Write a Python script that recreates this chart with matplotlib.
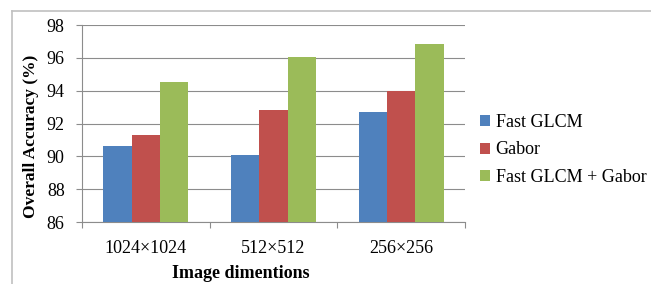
import matplotlib.pyplot as plt
import numpy as np
from matplotlib.lines import Line2D

categories = ['1024×1024', '512×512', '256×256']
series_names = ['Fast GLCM', 'Gabor', 'Fast GLCM + Gabor']
fast_glcm = [90.6, 90.1, 92.7]
gabor = [91.3, 92.8, 93.95]
combined = [94.55, 96.05, 96.85]
colors = ['#4F81BD', '#C0504D', '#9BBB59']

plt.rcParams['font.family'] = ['Liberation Serif', 'DejaVu Serif']

fig = plt.figure(figsize=(6.51, 2.84), dpi=100)
ax = fig.add_axes([82 / 651, 1 - 222 / 284, (465 - 82) / 651, (222 - 25) / 284])

x = np.arange(len(categories))
w = 0.222
for i, (vals, name) in enumerate(zip([fast_glcm, gabor, combined], series_names)):
    ax.bar(x + (i - 1) * w, np.array(vals) - 86, width=w, bottom=86,
           color=colors[i], label=name, zorder=3)

grid_c = '#8c8c8c'
ax.set_ylim(86, 98)
ax.set_xlim(-0.5, 2.5)
ax.set_yticks(np.arange(86, 99, 2))
ax.yaxis.grid(True, color=grid_c, linewidth=0.8, zorder=0)
ax.set_xticks(x)
ax.set_xticklabels(categories, fontsize=13)
ax.set_xticks([-0.5, 0.5, 1.5, 2.5], minor=True)
ax.tick_params(axis='x', which='major', length=0, pad=13)
ax.tick_params(axis='x', which='minor', length=4.5, color=grid_c, width=0.8)
ax.tick_params(axis='y', length=4.5, color=grid_c, width=0.8, pad=8, labelsize=13)
for s in ['top', 'right']:
    ax.spines[s].set_visible(False)
for s in ['left', 'bottom']:
    ax.spines[s].set_color(grid_c)
    ax.spines[s].set_linewidth(0.8)

ax.set_ylabel('Overall Accuracy (%)', fontsize=12.5, fontweight='bold')
ax.yaxis.set_label_coords(-0.112, 0.437)
ax.set_xlabel('Image dimentions', fontsize=13, fontweight='bold')
ax.xaxis.set_label_coords((241 - 82) / (465 - 82), -0.22)

ax.legend(loc='center left', bbox_to_anchor=(480 / 651, 1 - 150 / 284),
          bbox_transform=fig.transFigure, frameon=False, fontsize=13,
          handlelength=0.57, handleheight=0.57, handletextpad=0.3,
          labelspacing=0.58, borderaxespad=0, borderpad=0)

# outer chart border
bc = '#c0c0c0'
fig.add_artist(Line2D([11.5 / 651, 1], [1 - 10.5 / 284] * 2, color=bc, lw=1.2,
                      transform=fig.transFigure))
fig.add_artist(Line2D([11.5 / 651] * 2, [0, 1 - 10.5 / 284], color=bc, lw=1.2,
                      transform=fig.transFigure))

plt.savefig('out.png', dpi=100)
plt.close()
